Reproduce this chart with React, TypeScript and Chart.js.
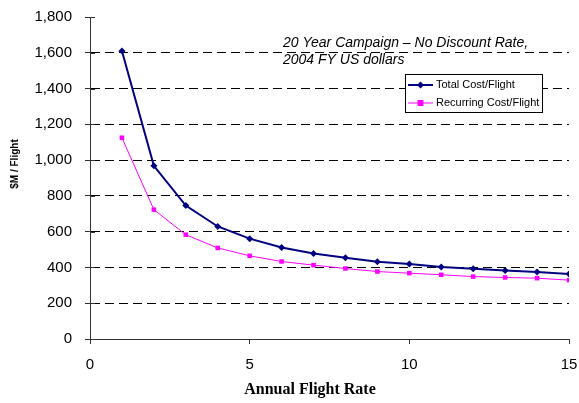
import React, { useEffect, useRef } from "react";
import { Chart, registerables } from "chart.js";

Chart.register(...registerables);

const flightRates = [1, 2, 3, 4, 5, 6, 7, 8, 9, 10, 11, 12, 13, 14, 15];
const totalCost = [1610, 968, 746, 629, 561, 512, 478, 454, 432, 419, 402, 393, 383, 374, 364];
const recurringCost = [1125, 723, 583, 509, 465, 433, 413, 394, 377, 368, 359, 349, 344, 340, 329];
const seriesNames = ["Total Cost/Flight", "Recurring Cost/Flight"];
const annotationLines = ["20 Year Campaign \u2013 No Discount Rate,", "2004 FY US dollars"];
const xTitle = "Annual Flight Rate";
const yTitle = "$M / Flight";

const NAVY = "#000080";
const MAGENTA = "#FF00FF";

const overlayPlugin = {
  id: "overlay",
  afterDraw(chart: any) {
    const ctx = chart.ctx as CanvasRenderingContext2D;
    const area = chart.chartArea;
    const yScale = chart.scales.y;
    ctx.save();
    ctx.strokeStyle = "#333";
    ctx.lineWidth = 1;
    for (const t of yScale.ticks) {
      const py = Math.round(yScale.getPixelForValue(t.value)) + 0.5;
      ctx.beginPath();
      ctx.moveTo(area.left, py);
      ctx.lineTo(area.left + 5, py);
      ctx.stroke();
    }
    ctx.fillStyle = "#000";
    ctx.font = "italic 14px Arial, 'Liberation Sans', sans-serif";
    ctx.textAlign = "left";
    ctx.textBaseline = "middle";
    ctx.fillText(annotationLines[0], 283, 43);
    ctx.fillText(annotationLines[1], 283, 60);
    const lx = 405, ly = 74, lw = 137, lh = 38;
    ctx.fillStyle = "#fff";
    ctx.fillRect(lx, ly, lw, lh);
    ctx.strokeStyle = "#000";
    ctx.lineWidth = 1;
    ctx.strokeRect(lx + 0.5, ly + 0.5, lw, lh);
    const rows = [
      { name: seriesNames[0], color: NAVY, y: 85, w: 2, shape: "diamond" },
      { name: seriesNames[1], color: MAGENTA, y: 103, w: 1, shape: "square" },
    ];
    for (const r of rows) {
      ctx.strokeStyle = r.color;
      ctx.lineWidth = r.w;
      ctx.beginPath();
      ctx.moveTo(408, r.y);
      ctx.lineTo(433, r.y);
      ctx.stroke();
      ctx.fillStyle = r.color;
      const cx = 420.5;
      if (r.shape === "diamond") {
        ctx.beginPath();
        ctx.moveTo(cx, r.y - 3.5);
        ctx.lineTo(cx + 3.5, r.y);
        ctx.lineTo(cx, r.y + 3.5);
        ctx.lineTo(cx - 3.5, r.y);
        ctx.closePath();
        ctx.fill();
      } else {
        ctx.fillRect(cx - 3, r.y - 3, 6, 6);
      }
      ctx.fillStyle = "#000";
      ctx.font = "11px Arial, 'Liberation Sans', sans-serif";
      ctx.textAlign = "left";
      ctx.textBaseline = "middle";
      ctx.fillText(r.name, 436, r.y);
    }
    ctx.fillStyle = "#000";
    ctx.font = "bold 16px 'Liberation Serif', 'Times New Roman', serif";
    ctx.textAlign = "center";
    ctx.textBaseline = "middle";
    ctx.fillText(xTitle, 310, 390);
    ctx.save();
    ctx.translate(15, 164);
    ctx.rotate(-Math.PI / 2);
    ctx.font = "bold 10px Arial, 'Liberation Sans', sans-serif";
    ctx.fillText(yTitle, 0, 0);
    ctx.restore();
    ctx.restore();
  },
};

const zeroPad = (s: any) => {
  s.paddingTop = 0;
  s.paddingBottom = 0;
  s.paddingLeft = 0;
  s.paddingRight = 0;
};

export default function App() {
  const ref = useRef<HTMLCanvasElement | null>(null);
  useEffect(() => {
    if (!ref.current) return;
    const tickFont = { family: "Arial, 'Liberation Sans', sans-serif", size: 15 };
    const chart = new Chart(ref.current, {
      type: "line",
      data: {
        datasets: [
          {
            label: seriesNames[0],
            data: flightRates.map((x, i) => ({ x, y: totalCost[i] })),
            borderColor: NAVY,
            backgroundColor: NAVY,
            borderWidth: 2,
            pointStyle: "rectRot",
            pointRadius: 3.5,
            pointBorderWidth: 0,
            tension: 0,
          },
          {
            label: seriesNames[1],
            data: flightRates.map((x, i) => ({ x, y: recurringCost[i] })),
            borderColor: MAGENTA,
            backgroundColor: MAGENTA,
            borderWidth: 1,
            pointStyle: "rect",
            pointRadius: 3.2,
            pointBorderWidth: 0,
            tension: 0,
          },
        ],
      },
      options: {
        responsive: false,
        animation: false,
        layout: { padding: { top: 17, right: 10, left: 0, bottom: 0 } },
        plugins: { legend: { display: false }, tooltip: { enabled: false } },
        scales: {
          x: {
            type: "linear",
            min: 0,
            max: 15,
            ticks: { stepSize: 5, color: "#000", font: tickFont, padding: 12 },
            grid: { drawOnChartArea: false, drawTicks: true, tickLength: 5, tickColor: "#333" },
            border: { color: "#333", width: 1 },
            afterFit: (s: any) => { s.height = 64; zeroPad(s); },
          },
          y: {
            min: 0,
            max: 1800,
            ticks: {
              stepSize: 200,
              color: "#000",
              font: tickFont,
              padding: 13,
              callback: (v: any) => Number(v).toLocaleString("en-US"),
            },
            grid: {
              color: (c: any) => (c.tick && (c.tick.value === 0 || c.tick.value === 1800) ? "rgba(0,0,0,0)" : "#000"),
              tickColor: "#333",
              tickLength: 5,
              tickBorderDash: [],
              lineWidth: 1,
            },
            border: { color: "#333", width: 1, dash: [9, 5] },
            afterFit: (s: any) => { s.width = 90; zeroPad(s); },
          },
        },
      },
      plugins: [overlayPlugin],
    });
    return () => chart.destroy();
  }, []);
  return (
    <div style={{ position: "absolute", left: 0, top: 0, width: 579, height: 403, background: "#fff" }}>
      <canvas ref={ref} width={579} height={403} style={{ width: 579, height: 403 }} />
    </div>
  );
}
